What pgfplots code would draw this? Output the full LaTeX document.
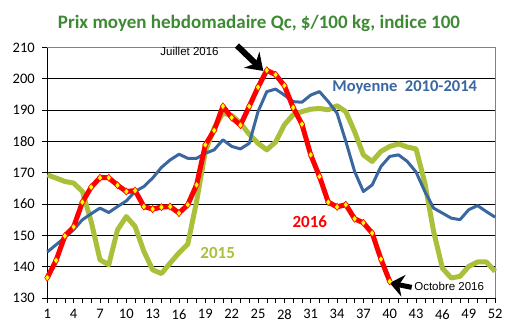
\documentclass[border=0pt]{standalone}
\usepackage{fontspec}
\setmainfont{Carlito}
\newfontfamily\arialf{Liberation Sans}
\usepackage{pgfplots}
\pgfplotsset{compat=1.18}
\usetikzlibrary{arrows.meta}
\definecolor{cblue}{HTML}{3A67A0}
\definecolor{cgreen}{HTML}{AABF3A}
\definecolor{ctitle}{HTML}{3E8A34}
\definecolor{cred}{HTML}{FF0000}
\definecolor{cyel}{HTML}{FFFF00}

\pgfplotstableread{
w v
1 136.5
2 142
3 149.8
4 152.7
5 160.6
6 165.4
7 168.4
8 168.4
9 166
10 164
11 164.3
12 159.2
13 158.4
14 159
15 159.2
16 157.1
17 159.8
18 166.1
19 178.9
20 183.5
21 191.2
22 187.6
23 185.2
24 191.2
25 197.3
26 202.7
27 201.3
28 197.8
29 190.8
30 185.5
31 175.7
32 168.8
33 160.6
34 159.1
35 159.8
36 155.3
37 154
38 150.7
39 142.4
40 135.3
}\reddata

\pgfplotstableread{
w v
1 144.7
2 147
3 149.3
4 151.8
5 155
6 156.9
7 158.7
8 157.3
9 159.2
10 161
11 164
12 165.6
13 168.3
14 171.7
15 174.1
16 175.9
17 174.6
18 174.6
19 176.2
20 177.3
21 180.5
22 178.4
23 177.6
24 179.4
25 189.5
26 195.9
27 196.7
28 194.8
29 192.7
30 192.5
31 194.8
32 195.9
33 192.7
34 189
35 180
36 170.4
37 164
38 166.1
39 172
40 175.2
41 175.7
42 173.6
43 170.2
44 164
45 158.7
46 157.1
47 155.5
48 155
49 158.2
50 159.5
51 157.6
52 155.8
}\bluedata

\pgfplotstableread{
w v
1 169.3
2 168.3
3 167.2
4 166.7
5 164
6 154.4
7 142.2
8 140.6
9 151.8
10 156
11 152.8
12 144.9
13 139
14 137.8
15 141.2
16 144.4
17 147.2
18 160.8
19 176.8
20 184.2
21 189
22 188.3
23 185.8
24 182.3
25 179.4
26 177.3
27 179.8
28 185.3
29 188.5
30 189.5
31 190.3
32 190.5
33 190.1
34 191.4
35 189.5
36 183.1
37 175.7
38 173.6
39 176.8
40 178.4
41 179.2
42 178.2
43 177.6
44 166.7
45 151.2
46 139.5
47 136.4
48 136.9
49 140.1
50 141.5
51 141.5
52 138.5
}\greendata

\begin{document}
\begin{tikzpicture}
\begin{axis}[
  scale only axis, width=447.7pt, height=250.5pt,
  xmin=1, xmax=52, ymin=130, ymax=210,
  xtick={1,4,...,52}, minor xtick={1,...,52},
  ytick={130,140,...,210},
  axis x line*=bottom, axis y line*=left,
  axis line style={black, line width=0.8pt, -},
  ymajorgrids, grid style={black, line width=0.8pt},
  tick align=outside, major tick length=5pt, minor tick length=5pt,
  tick style={black, line width=0.6pt},
  ticklabel style={font=\fontsize{14.5}{16}\selectfont},
  /pgf/number format/assume math mode=true,
  xticklabel style={yshift=-3pt},
  yticklabel style={xshift=-4pt},
  clip=false,
]
\path (axis cs:-4.387,118.29) rectangle (axis cs:53.47,225.15);
\draw[gray, line width=0.8pt] (rel axis cs:0,1) -- (rel axis cs:1,1) -- (rel axis cs:1,0);
\addplot[cgreen, line width=5pt, line join=round] table[x=w,y=v] {\greendata};
\addplot[cblue, line width=3pt, line join=round] table[x=w,y=v] {\bluedata};
\addplot[cred, line width=5pt, line join=round, mark=diamond*, mark size=3.6pt,
  mark options={fill=cyel, draw=cred, line width=0.6pt}] table[x=w,y=v] {\reddata};
\node[font=\fontsize{19}{21}\selectfont\bfseries, text=ctitle] at (axis cs:25.11,217.8) {Prix moyen hebdomadaire Qc, \$/100 kg, indice 100};
\node[font=\fontsize{16.5}{18}\selectfont\bfseries, text=cblue] at (axis cs:41.7,197.1) {Moyenne\ \ 2010-2014};
\node[font=\fontsize{17}{18}\selectfont\bfseries, text=cred] at (axis cs:30.9,154.3) {2016};
\node[font=\fontsize{17}{18}\selectfont\bfseries, text=cgreen] at (axis cs:20.4,144.5) {2015};
\node[font=\arialf\fontsize{11.5}{12}\selectfont] at (axis cs:17.2,208.6) {Juillet 2016};
\node[font=\arialf\fontsize{11.5}{12}\selectfont, anchor=west] at (axis cs:42.4,133.6) {Octobre 2016};
\draw[black, line width=6pt, -{Stealth[length=16pt,width=22pt]}] (axis cs:22.6,210.6) -- (axis cs:25.6,202.5);
\draw[black, line width=5pt, -{Stealth[length=14pt,width=22pt]}] (axis cs:42.5,133.4) -- (axis cs:40,134.8);
\end{axis}
\end{tikzpicture}
\end{document}
